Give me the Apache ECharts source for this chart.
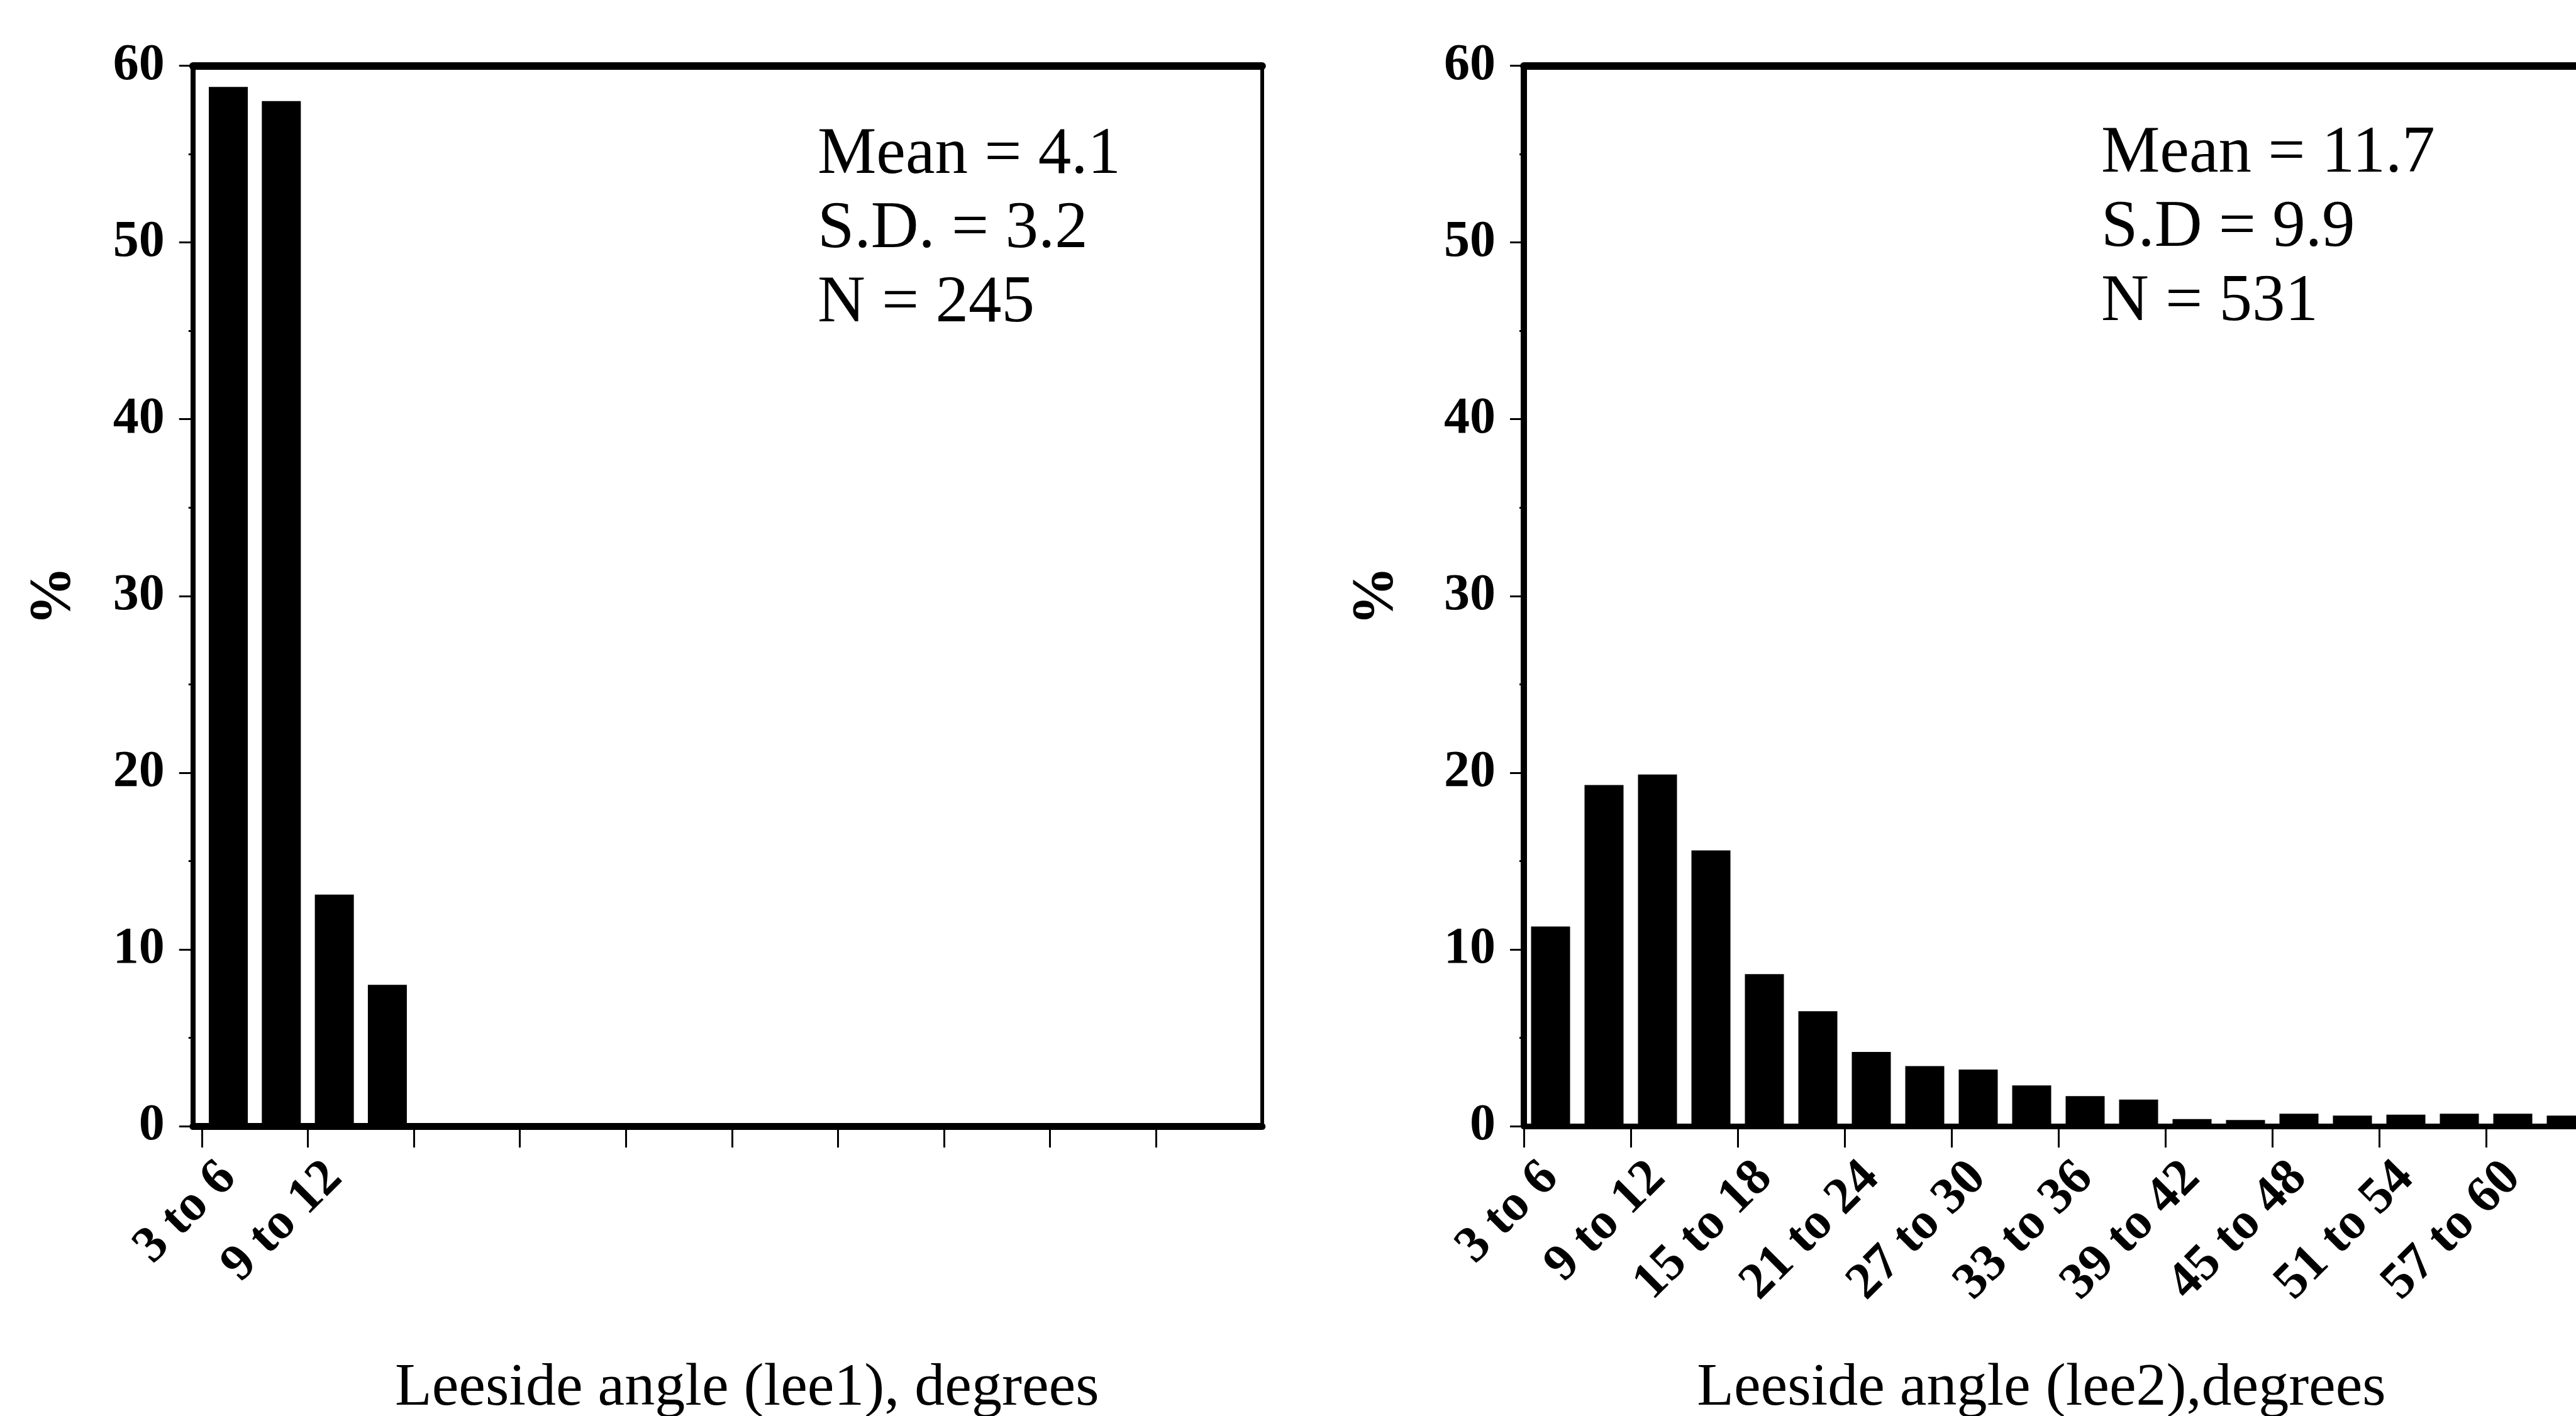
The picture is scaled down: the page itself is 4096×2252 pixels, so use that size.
<!DOCTYPE html>
<html>
<head>
<meta charset="utf-8">
<script src="https://cdn.jsdelivr.net/npm/echarts@6/dist/echarts.min.js"></script>
<style>
html,body{margin:0;padding:0;background:#fff;}
#chart{width:4096px;height:2252px;}
</style>
</head>
<body>
<div id="chart"></div>
<script>
// ---------- data ----------
const leftCategories = ['3 to 6', '6 to 9', '9 to 12', '12 to 15'];
const leftValues = [58.8, 58.0, 13.1, 8.0];

const rightCategories = ['3 to 6', '6 to 9', '9 to 12', '12 to 15', '15 to 18', '18 to 21', '21 to 24',
  '24 to 27', '27 to 30', '30 to 33', '33 to 36', '36 to 39', '39 to 42', '42 to 45', '45 to 48',
  '48 to 51', '51 to 54', '54 to 57', '57 to 60', '60 to 63'];
const rightValues = [11.3, 19.3, 19.9, 15.6, 8.6, 6.5, 4.2, 3.4, 3.2, 2.3, 1.7, 1.5,
  0.4, 0.35, 0.7, 0.6, 0.65, 0.7, 0.7, 0.6];

const yTickLabels = ['0', '10', '20', '30', '40', '50', '60'];
const leftStats = ['Mean = 4.1', 'S.D. = 3.2', 'N = 245'];
const rightStats = ['Mean = 11.7', 'S.D = 9.9', 'N = 531'];
const leftTitle = 'Leeside angle (lee1), degrees';
const rightTitle = 'Leeside angle (lee2),degrees';
const yTitle = '%';

// ---------- layout / style ----------
const FONT = '"Liberation Serif", "Times New Roman", serif';
const SLOTS = 20;
const gridTop = 104.5, gridH = 1686.5, gridW = 1700;

const boundaryTicks = [];
for (let i = 0; i < SLOTS - 1; i += 2) boundaryTicks.push(i);
function labelPositions(cats) {
  const out = [];
  for (let i = 0; i < cats.length && i < SLOTS - 1; i += 2) out.push(i + 0.5);
  return out;
}
function toPoints(vals) { return vals.map((v, i) => [i + 0.5, v]); }

function bottomAxis(gridIndex, minV, cats, title, pad, tickLen, lineW) {
  return {
    type: 'value', gridIndex: gridIndex, position: 'bottom', min: minV, max: SLOTS,
    axisLine: { show: true, onZero: false, lineStyle: { color: '#000', width: lineW } },
    axisTick: { show: true, customValues: boundaryTicks, length: tickLen, lineStyle: { color: '#000', width: 3 } },
    axisLabel: {
      show: true, customValues: labelPositions(cats),
      formatter: function (v) { return cats[Math.floor(v)]; },
      rotate: 45, margin: 70, color: '#000', fontFamily: FONT, fontWeight: 'bold', fontSize: 82
    },
    splitLine: { show: false },
    name: title, nameLocation: 'middle', nameGap: 370,
    nameTextStyle: { color: '#000', fontFamily: FONT, fontSize: 96, lineHeight: 96, padding: pad }
  };
}
function topAxis(gridIndex) {
  return {
    type: 'value', gridIndex: gridIndex, position: 'top', min: 0, max: 1,
    axisLine: { show: true, onZero: false, lineStyle: { color: '#000', width: 12 } },
    axisTick: { show: false }, axisLabel: { show: false }, splitLine: { show: false }
  };
}
function mainY(gridIndex, lineW, nameGap) {
  return {
    type: 'value', gridIndex: gridIndex, position: 'left', min: 0, max: 60, interval: 10,
    axisLine: { show: true, onZero: false, lineStyle: { color: '#000', width: lineW } },
    axisTick: { show: true, length: 22, lineStyle: { color: '#000', width: 3 } },
    minorTick: { show: true, splitNumber: 2, length: 7, lineStyle: { color: '#000', width: 3 } },
    axisLabel: {
      margin: 45, color: '#000', fontFamily: FONT, fontWeight: 'bold', fontSize: 82,
      verticalAlign: 'middle', padding: [0, 0, 38, 0],
      formatter: function (v) { return yTickLabels[Math.round(v / 10)]; }
    },
    splitLine: { show: false }, minorSplitLine: { show: false },
    name: yTitle, nameLocation: 'middle', nameRotate: 90, nameGap: nameGap,
    nameTextStyle: { color: '#000', fontFamily: FONT, fontWeight: 'bold', fontSize: 94 }
  };
}

const chart = echarts.init(document.getElementById('chart'), null, { renderer: 'canvas' });
chart.setOption({
  animation: false,
  backgroundColor: '#fff',
  grid: [
    { left: 306.8, top: gridTop, width: gridW, height: gridH, containLabel: false, outerBoundsMode: 'none' },
    { left: 2423, top: gridTop, width: gridW, height: gridH, containLabel: false, outerBoundsMode: 'none' }
  ],
  xAxis: [
    bottomAxis(0, -0.167, leftCategories, leftTitle, [0, 0, 0, 62], 34, 11),
    topAxis(0),
    bottomAxis(1, 0, rightCategories, rightTitle, [0, 54, 0, 0], 34, 9),
    topAxis(1)
  ],
  yAxis: [
    mainY(0, 8, 174),
    {
      type: 'value', gridIndex: 0, position: 'right', min: 0, max: 1,
      axisLine: { show: true, onZero: false, lineStyle: { color: '#000', width: 6 } },
      axisTick: { show: false }, axisLabel: { show: false }, splitLine: { show: false }
    },
    mainY(1, 10, 187)
  ],
  series: [
    { type: 'bar', xAxisIndex: 0, yAxisIndex: 0, data: toPoints(leftValues), barWidth: 62,
      itemStyle: { color: '#000' }, silent: true },
    { type: 'bar', xAxisIndex: 2, yAxisIndex: 2, data: toPoints(rightValues), barWidth: 62,
      itemStyle: { color: '#000' }, silent: true }
  ],
  graphic: [
    { type: 'text', left: 1300, top: 188, silent: true,
      style: { text: leftStats.join('\n'), fill: '#000', font: '105px ' + FONT, lineHeight: 118 } },
    { type: 'text', left: 3341, top: 186, silent: true,
      style: { text: rightStats.join('\n'), fill: '#000', font: '105px ' + FONT, lineHeight: 118 } }
  ]
});
</script>
</body>
</html>
